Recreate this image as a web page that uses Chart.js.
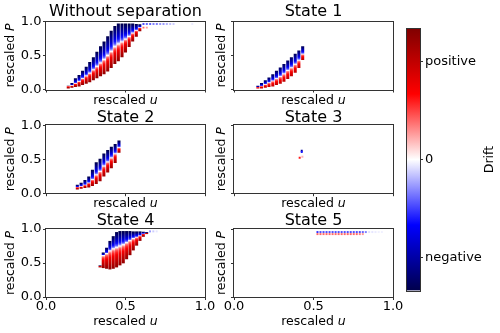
<!DOCTYPE html>
<html>
<head>
<meta charset="utf-8">
<script src="https://cdn.jsdelivr.net/npm/chart.js@4.4.1/dist/chart.umd.min.js"></script>
<style>
  body { margin: 0; background: #fff; width: 500px; height: 333px; position: relative; overflow: hidden; }
  canvas { position: absolute; }
</style>
</head>
<body>
<canvas id="p0"></canvas>
<canvas id="p1"></canvas>
<canvas id="p2"></canvas>
<canvas id="p3"></canvas>
<canvas id="p4"></canvas>
<canvas id="p5"></canvas>
<canvas id="cb"></canvas>
<script>
// ---- Data ----
const panelTitles = ["Without separation", "State 1", "State 2", "State 3", "State 4", "State 5"];
const axisTicks = [0, 0.5, 1];

// Without separation: columns of points (u, lowest P, zero-drift P, highest P)
const wsU    = [0.14, 0.163, 0.185, 0.208, 0.23, 0.253, 0.275, 0.298, 0.32, 0.343, 0.365, 0.388, 0.41, 0.433, 0.455, 0.478, 0.5, 0.523, 0.545, 0.568, 0.59];
const wsLow  = [0.02, 0.03, 0.04, 0.05, 0.07, 0.09, 0.11, 0.14, 0.17, 0.20, 0.23, 0.27, 0.32, 0.38, 0.42, 0.48, 0.55, 0.63, 0.71, 0.78, 0.86];
const wsMid  = [0.05, 0.06, 0.09, 0.12, 0.16, 0.20, 0.24, 0.29, 0.34, 0.39, 0.44, 0.50, 0.56, 0.63, 0.67, 0.70, 0.74, 0.78, 0.83, 0.87, 0.91];
const wsHigh = [0.05, 0.09, 0.16, 0.21, 0.27, 0.33, 0.40, 0.47, 0.55, 0.63, 0.70, 0.78, 0.86, 0.93, 0.965, 0.965, 0.965, 0.965, 0.965, 0.96, 0.955];
// Without separation: sparse points near the top
const wsDotU     = [0.613, 0.634, 0.655, 0.676, 0.697, 0.718, 0.739, 0.76, 0.781, 0.802, 0.613, 0.634, 0.92];
const wsDotP     = [0.963, 0.963, 0.963, 0.963, 0.963, 0.963, 0.963, 0.963, 0.963, 0.963, 0.91, 0.91, 0.963];
const wsDotDrift = [-0.35, -0.3, -0.3, -0.25, -0.25, -0.2, -0.2, -0.15, -0.12, -0.1, 0.3, 0.2, -0.04];

// State 1
const s1U    = [0.15, 0.173, 0.197, 0.22, 0.244, 0.267, 0.291, 0.314, 0.338, 0.361, 0.385, 0.408, 0.432];
const s1Low  = [0.02, 0.02, 0.03, 0.04, 0.05, 0.07, 0.09, 0.12, 0.16, 0.20, 0.25, 0.32, 0.44];
const s1Mid  = [0.035, 0.05, 0.075, 0.10, 0.125, 0.16, 0.19, 0.23, 0.28, 0.32, 0.37, 0.43, 0.52];
const s1High = [0.05, 0.09, 0.13, 0.17, 0.22, 0.27, 0.32, 0.37, 0.42, 0.47, 0.52, 0.57, 0.63];

// State 2
const s2U    = [0.197, 0.221, 0.245, 0.269, 0.292, 0.316, 0.34, 0.364, 0.388, 0.411, 0.435, 0.459];
const s2Low  = [0.06, 0.07, 0.08, 0.09, 0.11, 0.14, 0.18, 0.25, 0.31, 0.37, 0.45, 0.60];
const s2Mid  = [0.09, 0.10, 0.12, 0.15, 0.20, 0.27, 0.32, 0.40, 0.46, 0.52, 0.58, 0.67];
const s2High = [0.12, 0.15, 0.19, 0.24, 0.34, 0.45, 0.50, 0.58, 0.63, 0.68, 0.72, 0.77];

// State 3: a few isolated points
const s3DotU     = [0.426, 0.426, 0.413, 0.43];
const s3DotP     = [0.625, 0.605, 0.52, 0.535];
const s3DotDrift = [-0.75, -0.45, 0.45, 0.15];

// State 4
const s4U    = [0.34, 0.36, 0.381, 0.402, 0.423, 0.444, 0.465, 0.486, 0.507, 0.528, 0.549, 0.57, 0.591, 0.612, 0.633];
const s4Low  = [0.44, 0.43, 0.42, 0.41, 0.42, 0.44, 0.47, 0.50, 0.56, 0.62, 0.69, 0.76, 0.83, 0.89, 0.93];
const s4Mid  = [0.46, 0.61, 0.64, 0.68, 0.71, 0.73, 0.75, 0.77, 0.80, 0.83, 0.86, 0.88, 0.90, 0.93, 0.94];
const s4High = [0.46, 0.65, 0.72, 0.82, 0.89, 0.95, 0.965, 0.965, 0.965, 0.965, 0.96, 0.96, 0.96, 0.955, 0.95];
const s4DotU     = [0.654, 0.675, 0.696];
const s4DotP     = [0.965, 0.965, 0.965];
const s4DotDrift = [-0.2, -0.1, -0.05];

// State 5: two thin rows of points at the top
const s5DotU = [0.525, 0.544, 0.563, 0.582, 0.601, 0.62, 0.639, 0.658, 0.677, 0.696, 0.715, 0.734, 0.753, 0.772, 0.791, 0.81, 0.829,
                0.525, 0.544, 0.563, 0.582, 0.601, 0.62, 0.639, 0.658, 0.677, 0.696, 0.715, 0.734, 0.753, 0.772, 0.791, 0.81,
                0.85, 0.87, 0.89, 0.91, 0.93];
const s5DotP = [0.955, 0.955, 0.955, 0.955, 0.955, 0.955, 0.955, 0.955, 0.955, 0.955, 0.955, 0.955, 0.955, 0.955, 0.955, 0.955, 0.955,
                0.925, 0.925, 0.925, 0.925, 0.925, 0.925, 0.925, 0.925, 0.925, 0.925, 0.925, 0.925, 0.925, 0.925, 0.925, 0.925,
                0.955, 0.955, 0.955, 0.955, 0.955];
const s5DotDrift = [-0.4, -0.35, -0.35, -0.35, -0.35, -0.35, -0.35, -0.35, -0.35, -0.35, -0.35, -0.35, -0.35, -0.35, -0.35, -0.3, -0.25,
                    0.3, 0.3, 0.3, 0.3, 0.3, 0.3, 0.3, 0.3, 0.3, 0.3, 0.3, 0.3, 0.3, 0.3, 0.25, 0.2,
                    -0.06, -0.05, -0.04, -0.03, -0.03];

// Colorbar
const cbTickValues = [-0.75, 0, 0.75];
const cbTickLabels = ["negative", "0", "positive"];

// ---- Layout ----
const canvasLeft = [0, 188];
const canvasTop = [0, 106, 209];
const canvasHeight = [110, 109, 124];
const plotTop = [21.5, 125.2, 229];
const plotBottom = [89.5, 193.2, 297];
const titleMid = [11.8, 118, 221.3];
const xLabelGap = [11, 10.5, 25];
const yLabelGap = [35.5, 12.5];
const TITLE_SIZE = 16;
const TITLE_LH = 13.6;

Chart.defaults.font.family = '"DejaVu Sans", sans-serif';
Chart.defaults.color = "#000";

// matplotlib "seismic" colormap, drift in [-1, 1]
const SEISMIC = [[0, [0, 0, 76]], [0.25, [0, 0, 255]], [0.5, [255, 255, 255]], [0.75, [255, 0, 0]], [1, [128, 0, 0]]];
function seismic(d) {
  const n = Math.max(0, Math.min(1, (d + 1) / 2));
  for (let i = 1; i < SEISMIC.length; i++) {
    if (n <= SEISMIC[i][0]) {
      const [a, ca] = SEISMIC[i - 1];
      const [b, cb] = SEISMIC[i];
      const t = (n - a) / (b - a);
      const c = ca.map((v, k) => Math.round(v + (cb[k] - v) * t));
      return `rgb(${c[0]},${c[1]},${c[2]})`;
    }
  }
  return "rgb(128,0,0)";
}

// vertical gradient: blue (negative drift) on top, white at mid, red at the bottom
function columnFill(ctx, topStrength, bottomStrength) {
  const chart = ctx.chart;
  const r = ctx.raw;
  if (!chart.chartArea || !r || !r.y) return "#fff";
  const y = chart.scales.y;
  const yTop = y.getPixelForValue(r.y[1]);
  const yBot = y.getPixelForValue(r.y[0]);
  const yMid = y.getPixelForValue(r.mid);
  const span = Math.max(yBot - yTop, 0.01);
  const fm = Math.max(0, Math.min(1, (yMid - yTop) / span));
  const g = chart.ctx.createLinearGradient(0, yTop, 0, yTop + span);
  const n = 8;
  for (let k = 0; k <= n; k++) {
    const f = 1 - k / n; // distance from mid, 1 at the top
    g.addColorStop(fm * k / n, seismic(-topStrength * Math.pow(f, 0.55)));
  }
  for (let k = 1; k <= n; k++) {
    const f = k / n;
    g.addColorStop(fm + (1 - fm) * k / n, seismic(bottomStrength * Math.pow(f, 0.55)));
  }
  return g;
}

function drawMixed(ctx, x, y, plain, ital, size, rotate) {
  ctx.save();
  ctx.translate(x, y);
  if (rotate) ctx.rotate(-Math.PI / 2);
  const normal = `${size}px "DejaVu Sans"`;
  const italic = `italic ${size}px "DejaVu Sans"`;
  ctx.font = normal;
  const w1 = ctx.measureText(plain).width;
  ctx.font = italic;
  const w2 = ctx.measureText(ital).width;
  const x0 = -(w1 + w2) / 2;
  ctx.textBaseline = "middle";
  ctx.textAlign = "left";
  ctx.fillStyle = "#000";
  ctx.font = normal;
  ctx.fillText(plain, x0, 0);
  ctx.font = italic;
  ctx.fillText(ital, x0 + w1, 0);
  ctx.restore();
}

// frame around the plot area + axis labels
const panelText = {
  id: "panelText",
  afterDraw(chart, args, opts) {
    const { ctx, chartArea: a } = chart;
    ctx.save();
    ctx.strokeStyle = "#333";
    ctx.lineWidth = 1;
    const l = Math.round(a.left) - 0.5, t = Math.round(a.top) - 0.5;
    const r = Math.round(a.right) + 0.5, b = Math.round(a.bottom) + 0.5;
    ctx.strokeRect(l, t, r - l, b - t);
    ctx.restore();
    const cy = (a.top + a.bottom) / 2;
    if (opts.xGap !== undefined) {
      drawMixed(ctx, (a.left + a.right) / 2, a.bottom + opts.xGap, "rescaled ", "u", 12.5, false);
      drawMixed(ctx, a.left - opts.yGap, cy, "rescaled ", "P", 12.5, true);
    }
    if (opts.drift) {
      drawMixed(ctx, a.right + 70, cy, "Drift", "", 12.5, true);
    }
  }
};

function makePanel(index, columns, dots, strength) {
  const col = index % 2, row = Math.floor(index / 2);
  const canvas = document.getElementById("p" + index);
  canvas.width = 220;
  canvas.height = canvasHeight[row];
  canvas.style.left = canvasLeft[col] + "px";
  canvas.style.top = canvasTop[row] + "px";

  const datasets = [];
  if (columns) {
    datasets.push({
      type: "bar",
      data: columns.u.map((u, i) => ({ x: u, y: [columns.lo[i], columns.hi[i]], mid: columns.mid[i] })),
      barThickness: 2.4,
      grouped: false,
      borderWidth: 0,
      backgroundColor: (c) => columnFill(c, strength[0], strength[1]),
    });
  }
  if (dots) {
    datasets.push({
      type: "scatter",
      data: dots.u.map((u, i) => ({ x: u, y: dots.p[i] })),
      pointStyle: "rect",
      pointRadius: 1.4,
      pointBorderWidth: 0,
      pointBackgroundColor: dots.d.map(seismic),
    });
  }

  const padTop = titleMid[row] - canvasTop[row] - TITLE_LH / 2;
  const titlePadBottom = plotTop[row] - titleMid[row] - TITLE_LH / 2;
  const xAxisH = canvasTop[row] + canvasHeight[row] - plotBottom[row];
  const bottomRow = row === 2;
  const fmt = (v) => Number(v).toFixed(1);

  new Chart(canvas, {
    type: "bar",
    data: { datasets },
    options: {
      responsive: false,
      animation: false,
      events: [],
      layout: { padding: { top: padTop, right: 15, bottom: 0, left: 0 } },
      plugins: {
        legend: { display: false },
        tooltip: { enabled: false },
        title: {
          display: true,
          fullSize: false,
          text: panelTitles[index],
          color: "#000",
          font: { size: TITLE_SIZE, weight: "normal", lineHeight: TITLE_LH / TITLE_SIZE },
          padding: { top: 0, bottom: titlePadBottom },
        },
        panelText: { xGap: xLabelGap[row], yGap: yLabelGap[col] },
      },
      scales: {
        x: {
          type: "linear",
          min: 0,
          max: 1,
          offset: false,
          afterBuildTicks: (axis) => { axis.ticks = axisTicks.map((v) => ({ value: v })); },
          ticks: {
            callback: (v) => (bottomRow ? fmt(v) : ""),
            font: { size: 13, lineHeight: 1 },
            padding: 0,
            maxRotation: 0,
            autoSkip: false,
          },
          grid: { offset: false, drawOnChartArea: false, tickLength: 3, tickColor: "#333" },
          border: { display: false },
          afterFit: (s) => { s.height = xAxisH; },
        },
        y: {
          type: "linear",
          min: 0,
          max: 1,
          afterBuildTicks: (axis) => { axis.ticks = axisTicks.map((v) => ({ value: v })); },
          ticks: {
            callback: (v) => (col === 0 ? fmt(v) : ""),
            font: { size: 13, lineHeight: 1 },
            padding: 1.5,
            autoSkip: false,
          },
          grid: { drawOnChartArea: false, tickLength: 3, tickColor: "#333" },
          border: { display: false },
          afterFit: (s) => { s.width = 46; },
        },
      },
    },
    plugins: [panelText],
  });
}

makePanel(0, { u: wsU, lo: wsLow, mid: wsMid, hi: wsHigh }, { u: wsDotU, p: wsDotP, d: wsDotDrift }, [1, 0.92]);
makePanel(1, { u: s1U, lo: s1Low, mid: s1Mid, hi: s1High }, null, [0.95, 0.75]);
makePanel(2, { u: s2U, lo: s2Low, mid: s2Mid, hi: s2High }, null, [1, 0.88]);
makePanel(3, null, { u: s3DotU, p: s3DotP, d: s3DotDrift }, [0, 0]);
makePanel(4, { u: s4U, lo: s4Low, mid: s4Mid, hi: s4High }, { u: s4DotU, p: s4DotP, d: s4DotDrift }, [1, 0.92]);
makePanel(5, null, { u: s5DotU, p: s5DotP, d: s5DotDrift }, [0, 0]);

// ---- Colorbar ----
function colorbarFill(ctx) {
  const chart = ctx.chart;
  if (!chart.chartArea) return "#fff";
  const y = chart.scales.y;
  const y0 = y.getPixelForValue(1), y1 = y.getPixelForValue(-1);
  const g = chart.ctx.createLinearGradient(0, y0, 0, y1);
  for (let k = 0; k <= 20; k++) g.addColorStop(k / 20, seismic(1 - 2 * k / 20));
  return g;
}

const cbCanvas = document.getElementById("cb");
cbCanvas.width = 120;
cbCanvas.height = 333;
cbCanvas.style.left = "380px";
cbCanvas.style.top = "0px";
new Chart(cbCanvas, {
  type: "bar",
  data: { labels: [""], datasets: [{ data: [[-1, 1]], backgroundColor: colorbarFill, barPercentage: 1, categoryPercentage: 1, borderWidth: 0 }] },
  options: {
    responsive: false,
    animation: false,
    events: [],
    layout: { padding: { left: 27, top: 28.5, bottom: 42.5, right: 0 } },
    plugins: { legend: { display: false }, tooltip: { enabled: false }, panelText: { drift: true } },
    scales: {
      x: { display: false },
      y: {
        position: "right",
        min: -1,
        max: 1,
        afterBuildTicks: (axis) => { axis.ticks = cbTickValues.map((v) => ({ value: v })); },
        ticks: { callback: (v, i) => cbTickLabels[i], font: { size: 13 }, padding: 2, autoSkip: false },
        grid: { drawOnChartArea: false, tickLength: 3, tickColor: "#333" },
        border: { display: false },
        afterFit: (s) => { s.width = 80; },
      },
    },
  },
  plugins: [panelText],
});
</script>
</body>
</html>
